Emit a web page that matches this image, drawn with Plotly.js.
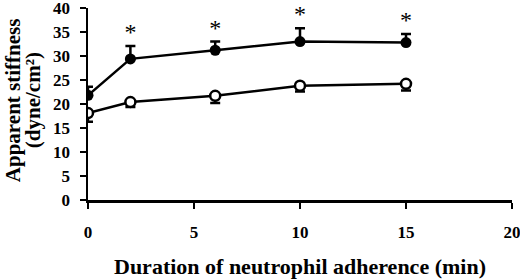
<!DOCTYPE html>
<html><head><meta charset="utf-8">
<script src="https://cdn.plot.ly/plotly-3.0.1.min.js"></script>
<style>html,body{margin:0;padding:0;background:#fff}#c{width:520px;height:279px}</style>
</head><body><div id="c"></div>
<script>
const minutes = [0, 2, 6, 10, 15];
const filledMean = [21.8, 29.4, 31.2, 33.0, 32.8];
const filledErrUp = [1.8, 2.7, 1.8, 2.8, 1.8];
const openMean = [18.1, 20.4, 21.7, 23.8, 24.2];
const openErrDown = [1.8, 1.0, 1.5, 1.2, 1.4];
const starred = [false, true, true, true, true];
const xTicks = [0, 5, 10, 15, 20];
const yTicks = [0, 5, 10, 15, 20, 25, 30, 35, 40];
const yTitleLines = ['Apparent stiffness', '(dyne/cm²)'];
const xTitle = 'Duration of neutrophil adherence (min)';

const font = {family: '"Liberation Serif", "Times New Roman", serif', color: '#000000'};
const lineStyle = {color: '#000', width: 2.5};

const starX = [], starY = [];
minutes.forEach((m, i) => {
  if (starred[i]) { starX.push(m); starY.push(filledMean[i] + filledErrUp[i]); }
});

const traces = [
  {x: minutes, y: openMean, type: 'scatter', mode: 'lines+markers',
   line: lineStyle,
   marker: {symbol: 'circle', size: 10, color: '#fff', line: {color: '#000', width: 2.5}},
   error_y: {type: 'data', symmetric: false, array: minutes.map(() => 0), arrayminus: openErrDown,
             color: '#000', thickness: 2.5, width: 5}},
  {x: minutes, y: filledMean, type: 'scatter', mode: 'lines+markers',
   line: lineStyle,
   marker: {symbol: 'circle', size: 11, color: '#000'},
   error_y: {type: 'data', symmetric: false, array: filledErrUp, arrayminus: minutes.map(() => 0),
             color: '#000', thickness: 2.5, width: 5}},
  {x: starX, y: starY, type: 'scatter', mode: 'text', text: starX.map(() => '*'),
   textposition: 'top center', cliponaxis: false,
   textfont: {family: font.family, size: 24, color: '#000000'}}
];

const annotations = [];
annotations.push({xref: 'paper', yref: 'paper', x: 0, y: 0.52, xshift: -75, yanchor: 'middle', xanchor: 'center',
  text: '<b>' + yTitleLines[0] + '</b>', textangle: -90, showarrow: false,
  font: Object.assign({}, font, {size: 21})});
annotations.push({xref: 'paper', yref: 'paper', x: 0, y: 0.52, xshift: -55, yanchor: 'middle', xanchor: 'center',
  text: '<b>' + yTitleLines[1] + '</b>', textangle: -90, showarrow: false,
  font: Object.assign({}, font, {size: 21})});

const layout = {
  width: 520, height: 279,
  margin: {l: 88, r: 8, t: 8, b: 79},
  paper_bgcolor: '#fff', plot_bgcolor: '#fff',
  showlegend: false,
  font: font,
  xaxis: {range: [0, 20], tickvals: xTicks, ticktext: xTicks.map(String),
    showgrid: false, zeroline: false, showline: true, linecolor: '#000', linewidth: 2.5,
    ticks: 'outside', ticklen: 6, tickwidth: 2.5, tickcolor: '#000',
    ticklabelstandoff: 9, ticklabeloverflow: 'allow',
    tickfont: Object.assign({}, font, {size: 17, weight: 'bold'}),
    title: {text: '<b>' + xTitle + '</b>', standoff: 18,
      font: Object.assign({}, font, {size: 22})}},
  yaxis: {range: [0, 40], tickvals: yTicks, ticktext: yTicks.map(String),
    showgrid: false, zeroline: false, showline: true, linecolor: '#000', linewidth: 2.5,
    ticks: 'outside', ticklen: 6, tickwidth: 2.5, tickcolor: '#000',
    ticklabelstandoff: 6, ticklabeloverflow: 'allow',
    tickfont: Object.assign({}, font, {size: 17, weight: 'bold'})},
  annotations: annotations
};

Plotly.newPlot('c', traces, layout, {displayModeBar: false, staticPlot: true});
</script></body></html>
